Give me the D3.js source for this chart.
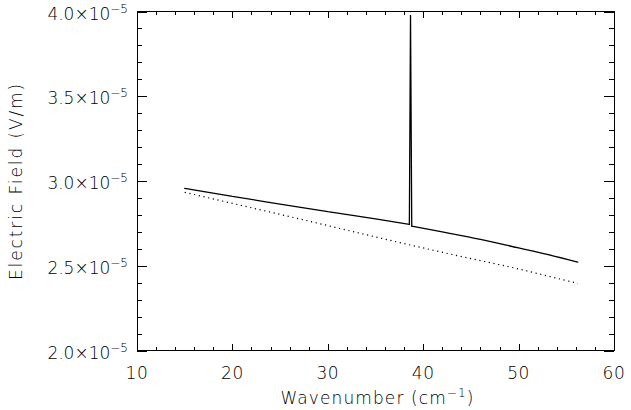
<!DOCTYPE html>
<html>
<head>
<meta charset="utf-8">
<script src="https://cdn.jsdelivr.net/npm/d3@7"></script>
<style>
  html, body { margin: 0; padding: 0; background: #fff; }
  svg { display: block; }
  text { font-family: "DejaVu Sans", sans-serif; font-weight: 200; fill: #000; }
</style>
</head>
<body>
<svg id="chart" width="631" height="410"></svg>
<script>
// Wavenumber (cm^-1) and field strength (units of 1e-5 V/m)
const solidX = [15, 20, 25, 30, 35, 38.55, 38.67, 38.80, 42, 46, 50, 53, 56.2];
const solidY = [2.957, 2.909, 2.864, 2.819, 2.776, 2.744, 3.98, 2.734, 2.700, 2.656, 2.605, 2.567, 2.521];
const dottedX = [15, 20, 25, 30, 35, 40, 45, 50, 53, 56.2];
const dottedY = [2.933, 2.868, 2.803, 2.737, 2.670, 2.605, 2.542, 2.481, 2.440, 2.396];
const xTicks = [10, 20, 30, 40, 50, 60];
const yTicks = [2.0, 2.5, 3.0, 3.5, 4.0];
const yTickMantissa = ["2.0", "2.5", "3.0", "3.5", "4.0"];
const yExponent = "\u22125";

const svg = d3.select("#chart");
const frame = { left: 137, right: 614, top: 11.5, bottom: 350.5 };

const x = d3.scaleLinear().domain([10, 60]).range([frame.left, frame.right]);
const y = d3.scaleLinear().domain([2.0, 4.0]).range([frame.bottom, frame.top]);

const plotW = frame.right - frame.left;
const plotH = frame.bottom - frame.top;
const xMajor = 0.02 * plotH, xMinor = xMajor / 2;
const yMajor = 0.02 * plotW, yMinor = yMajor / 2;

const xMinorVals = d3.range(10, 60.001, 2);
const yMinorVals = d3.range(2.0, 4.0001, 0.1);

function tickAxis(axisFn, scale, vals, len) {
  return axisFn(scale).tickValues(vals).tickSize(len).tickSizeOuter(0).tickFormat("");
}

// inward-pointing ticks on all four sides
const g = svg.append("g").attr("class", "axes");
function drawAxis(axis, transform) {
  const a = g.append("g").attr("transform", transform).call(axis);
  a.select(".domain").remove();
  a.selectAll("line").attr("stroke", "#000").attr("stroke-width", 1).attr("shape-rendering", "crispEdges");
}
drawAxis(tickAxis(d3.axisTop, x, xTicks, xMajor), `translate(0,${frame.bottom})`);
drawAxis(tickAxis(d3.axisTop, x, xMinorVals, xMinor), `translate(0,${frame.bottom})`);
drawAxis(tickAxis(d3.axisBottom, x, xTicks, xMajor), `translate(0,${frame.top})`);
drawAxis(tickAxis(d3.axisBottom, x, xMinorVals, xMinor), `translate(0,${frame.top})`);
drawAxis(tickAxis(d3.axisRight, y, yTicks, yMajor), `translate(${frame.left},0)`);
drawAxis(tickAxis(d3.axisRight, y, yMinorVals, yMinor), `translate(${frame.left},0)`);
drawAxis(tickAxis(d3.axisLeft, y, yTicks, yMajor), `translate(${frame.right},0)`);
drawAxis(tickAxis(d3.axisLeft, y, yMinorVals, yMinor), `translate(${frame.right},0)`);

// plot frame
svg.append("rect")
  .attr("x", frame.left).attr("y", frame.top)
  .attr("width", plotW).attr("height", plotH)
  .attr("fill", "none").attr("stroke", "#000").attr("stroke-width", 1)
  .attr("shape-rendering", "crispEdges");

// x tick labels
svg.append("g").selectAll("text").data(xTicks).join("text")
  .attr("x", d => x(d)).attr("y", 379)
  .attr("text-anchor", "middle").attr("font-size", 17)
  .attr("letter-spacing", 0.6)
  .text(d => d);

// y tick labels with powers of ten
const yl = svg.append("g").selectAll("text").data(yTicks).join("text")
  .attr("x", frame.left - 9).attr("y", d => y(d) + 8)
  .attr("text-anchor", "end").attr("font-size", 17);
yl.append("tspan").text((d, i) => yTickMantissa[i] + "\u00d710");
yl.append("tspan").attr("font-size", 12).attr("dy", -7).text(yExponent);

// axis titles
const xt = svg.append("text")
  .attr("x", (frame.left + frame.right) / 2 + 2).attr("y", 404)
  .attr("text-anchor", "middle").attr("font-size", 17)
  .attr("letter-spacing", 1.1);
xt.append("tspan").text("Wavenumber (cm");
xt.append("tspan").attr("font-size", 12).attr("dy", -7).text("\u22121");
xt.append("tspan").attr("dy", 7).text(")");

svg.append("text")
  .attr("transform", `translate(22,${(frame.top + frame.bottom) / 2}) rotate(-90)`)
  .attr("text-anchor", "middle").attr("font-size", 17)
  .attr("letter-spacing", 1.9)
  .text("Electric Field (V/m)");

// data curves: smooth continuum, straight-edged narrow peak
const smooth = d3.line().x(d => x(d[0])).y(d => y(d[1])).curve(d3.curveMonotoneX);
const straight = d3.line().x(d => x(d[0])).y(d => y(d[1]));

svg.append("path")
  .datum(dottedX.map((v, i) => [v, dottedY[i]]))
  .attr("d", smooth).attr("fill", "none").attr("stroke", "#000")
  .attr("stroke-width", 1.2).attr("stroke-dasharray", "1.2,3.6");

const solid = solidX.map((v, i) => [v, solidY[i]]);
const peakIdx = d3.maxIndex(solidY);
const pieces = [
  { pts: solid.slice(0, peakIdx), gen: smooth },
  { pts: solid.slice(peakIdx - 1, peakIdx + 2), gen: straight },
  { pts: solid.slice(peakIdx + 1), gen: smooth }
];
svg.append("g").selectAll("path").data(pieces).join("path")
  .attr("d", d => d.gen(d.pts)).attr("fill", "none").attr("stroke", "#000")
  .attr("stroke-width", 1.3).attr("stroke-linejoin", "miter")
  .attr("stroke-miterlimit", 1).attr("stroke-linecap", "round");
</script>
</body>
</html>
